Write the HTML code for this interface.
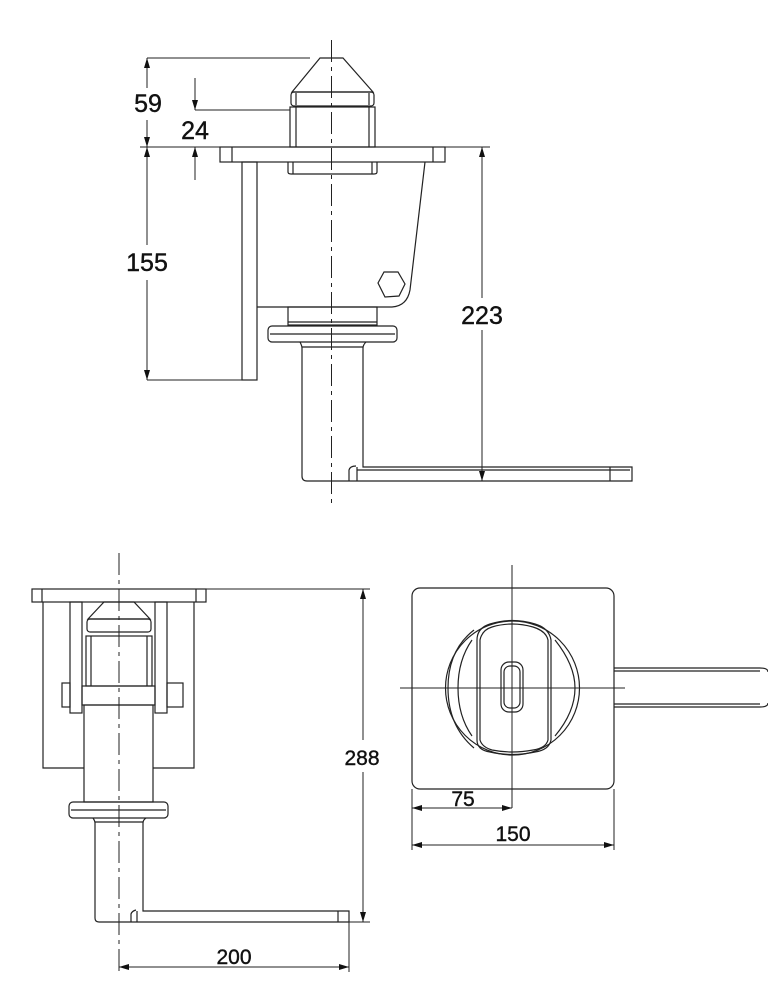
<!DOCTYPE html>
<html><head><meta charset="utf-8"><style>
html,body{margin:0;padding:0;background:#fff}
svg{display:block}
text{font-family:"Liberation Sans",sans-serif;fill:#111;stroke:#111;stroke-width:0.4}
</style></head><body>
<svg width="768" height="1000" viewBox="0 0 768 1000" xmlns="http://www.w3.org/2000/svg">
<defs>
<marker id="a" viewBox="0 0 10 6" refX="10" refY="3" markerWidth="10" markerHeight="6" orient="auto-start-reverse" markerUnits="userSpaceOnUse"><path d="M0,0 L10,3 L0,6 z" fill="#111"/></marker>
</defs>
<g fill="none" stroke="#222" stroke-width="1.2">
<line x1="331.5" y1="40" x2="331.5" y2="505" stroke-dasharray="22,5,4,5" stroke-width="1"/>
<path d="M320,58 L343,58 L373,92 L292,92 Z"/>
<rect x="291" y="92" width="83" height="14" rx="3"/>
<line x1="296" y1="93" x2="296" y2="105"/><line x1="369" y1="93" x2="369" y2="105"/>
<rect x="290" y="107" width="85" height="40"/>
<line x1="296" y1="107" x2="296" y2="147"/><line x1="369" y1="107" x2="369" y2="147"/>
<rect x="220" y="147" width="225" height="15"/>
<line x1="232" y1="147" x2="232" y2="162"/><line x1="433" y1="147" x2="433" y2="162"/>
<path d="M288,162 L288,172 Q288,174 291,174 L374,174 Q377,174 377,172 L377,162"/>
<line x1="293" y1="162" x2="293" y2="174"/><line x1="372" y1="162" x2="372" y2="174"/>
<rect x="242" y="162" width="15" height="218"/>
<path d="M425,162 L410,290 Q407,306 392,307 L257,307"/>
<polygon points="378,283 384,272 398,272 405,284 399,296 385,297"/>
<rect x="288" y="307" width="89" height="18"/>
<line x1="288" y1="322" x2="377" y2="322"/>
<rect x="268" y="326" width="129" height="16" rx="4"/>
<line x1="270" y1="334" x2="395" y2="334"/>
<path d="M300,342 Q302,346 302,348 L302,476 Q302,481 307,481 L632,481 L632,467 L363,467 L363,348 Q363,345 366,342"/>
<line x1="302" y1="347" x2="363" y2="347"/>
<path d="M349,481 L349,470 Q350,466 356,466"/>
<line x1="357" y1="467" x2="357" y2="481"/>
<line x1="610" y1="467" x2="610" y2="481"/>
<line x1="357" y1="470" x2="630" y2="470"/>
<g stroke-width="1">
<line x1="147" y1="58" x2="310" y2="58"/>
<line x1="140" y1="147" x2="220" y2="147"/>
<line x1="147" y1="380" x2="242" y2="380"/>
<line x1="195" y1="110" x2="290" y2="110"/>
<line x1="147" y1="58" x2="147" y2="88" marker-start="url(#a)"/>
<line x1="147" y1="120" x2="147" y2="147" marker-end="url(#a)"/>
<line x1="147" y1="147" x2="147" y2="245" marker-start="url(#a)"/>
<line x1="147" y1="280" x2="147" y2="380" marker-end="url(#a)"/>
<line x1="195" y1="78" x2="195" y2="110" marker-end="url(#a)"/>
<line x1="195" y1="180" x2="195" y2="147" marker-end="url(#a)"/>
<line x1="445" y1="147" x2="490" y2="147"/>
<line x1="482" y1="147" x2="482" y2="298" marker-start="url(#a)"/>
<line x1="482" y1="330" x2="482" y2="481" marker-end="url(#a)"/>
</g>
<line x1="119" y1="553" x2="119" y2="975" stroke-dasharray="22,5,4,5" stroke-width="1"/>
<rect x="32" y="589" width="174" height="13"/>
<line x1="42" y1="589" x2="42" y2="602"/><line x1="196" y1="589" x2="196" y2="602"/>
<path d="M43,602 L43,768 L84,768"/><path d="M194,602 L194,768 L153,768"/>
<rect x="70" y="602" width="12" height="111"/>
<rect x="155" y="602" width="12" height="111"/>
<path d="M104,602 L134,602 L150,619 L88,619 Z"/>
<rect x="87" y="619" width="64" height="13" rx="3"/>
<rect x="86" y="636" width="66" height="50"/>
<line x1="91" y1="636" x2="91" y2="686"/><line x1="147" y1="636" x2="147" y2="686"/>
<rect x="82" y="686" width="73" height="19"/>
<rect x="62" y="683" width="8" height="24"/>
<rect x="167" y="683" width="16" height="24"/>
<rect x="84" y="705" width="69" height="97"/>
<rect x="69" y="802" width="99" height="16" rx="4"/>
<line x1="71" y1="810" x2="166" y2="810"/>
<path d="M93,818 Q95,821 95,823 L95,918 Q95,922 99,922 L349,922 L349,911 L143,911 L143,823 Q143,820 146,818"/>
<line x1="95" y1="822" x2="143" y2="822"/>
<path d="M131,922 L131,914 Q132,911 136,910"/>
<line x1="137" y1="911" x2="137" y2="922"/>
<line x1="338" y1="911" x2="338" y2="922"/>
<g stroke-width="1">
<line x1="206" y1="589" x2="370" y2="589"/>
<line x1="349" y1="922" x2="370" y2="922"/>
<line x1="363" y1="589" x2="363" y2="740" marker-start="url(#a)"/>
<line x1="363" y1="772" x2="363" y2="922" marker-end="url(#a)"/>
<line x1="349" y1="922" x2="349" y2="972"/>
<line x1="119" y1="967" x2="349" y2="967" marker-start="url(#a)" marker-end="url(#a)"/>
</g>
<rect x="412" y="588" width="202" height="201" rx="8"/>
<line x1="512" y1="565" x2="512" y2="808" stroke-width="1"/>
<line x1="400" y1="688" x2="625" y2="688" stroke-width="1"/>
<circle cx="512.5" cy="688" r="67"/>
<path d="M614,668 L760,668 Q768,668 768,672"/>
<path d="M614,707 L760,707 Q768,707 768,703"/>
<path d="M614,671 L760,671"/><path d="M614,704 L760,704"/>
<path d="M477,640 Q477,628 490,624 Q512,617 535,624 Q549,628 551,640 L551,740 Q549,750 535,752 Q512,757 490,752 Q477,750 477,740 Z"/>
<path d="M480,640 Q482,630 492,627 Q512,621 533,627 Q546,631 548,640 L548,740 Q546,748 533,750 Q512,754 492,750 Q482,747 480,740 Z"/>
<path d="M474,630 Q448,650 448,688 Q448,726 474,748"/>
<path d="M472,640 Q458,660 458,688 Q458,716 472,736"/>
<path d="M555,640 Q575,665 575,688 Q575,712 555,736"/>
<rect x="501" y="662" width="22" height="50" rx="8"/>
<rect x="504" y="666" width="16" height="42" rx="6"/>
<g stroke-width="1">
<line x1="412" y1="789" x2="412" y2="850"/>
<line x1="614" y1="789" x2="614" y2="850"/>
<line x1="412" y1="808" x2="512" y2="808" marker-start="url(#a)" marker-end="url(#a)"/>
<line x1="412" y1="845" x2="614" y2="845" marker-start="url(#a)" marker-end="url(#a)"/>
</g>
</g>
<g font-size="25">
<text x="148" y="112" text-anchor="middle">59</text>
<text x="195" y="139" text-anchor="middle">24</text>
<text x="147" y="271" text-anchor="middle">155</text>
<text x="482" y="324" text-anchor="middle">223</text>
</g>
<g font-size="21">
<text x="362" y="765" text-anchor="middle">288</text>
<text x="234" y="964" text-anchor="middle">200</text>
<text x="463" y="806" text-anchor="middle">75</text>
<text x="513" y="841" text-anchor="middle">150</text>
</g>
</svg>
</body></html>
